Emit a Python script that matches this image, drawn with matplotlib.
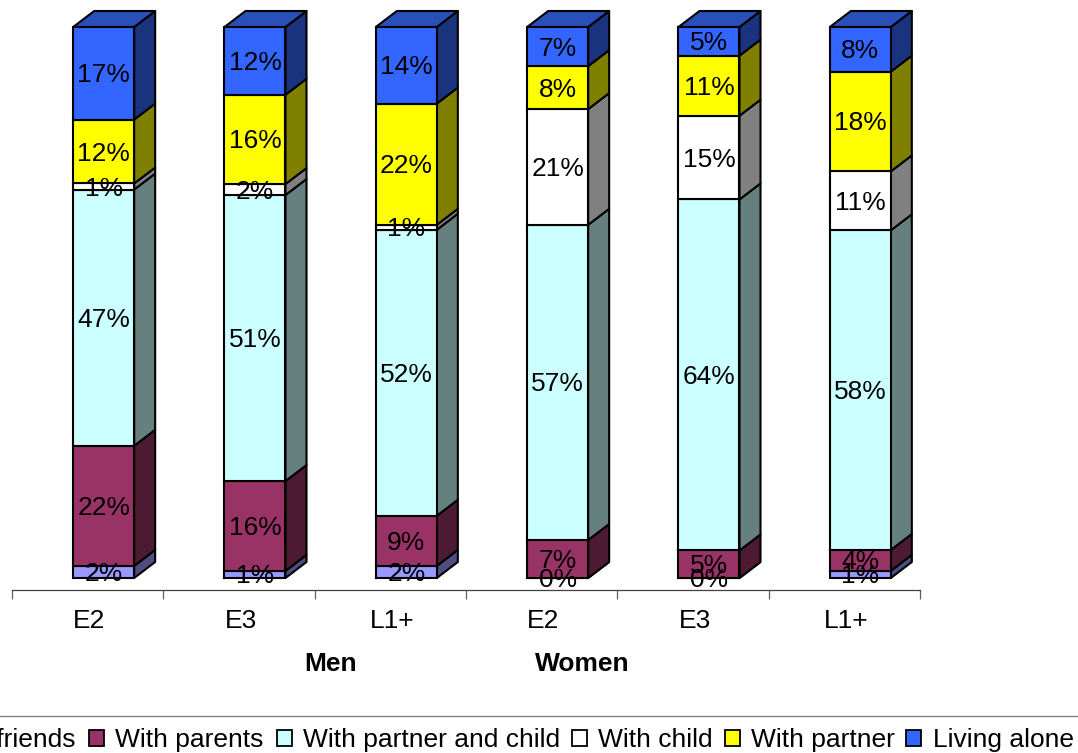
import matplotlib
matplotlib.use("Agg")
import matplotlib.pyplot as plt
from matplotlib.patches import Polygon, Rectangle
from matplotlib.lines import Line2D
from matplotlib.transforms import ScaledTranslation

plt.rcParams['font.family'] = ['Liberation Sans', 'DejaVu Sans']

# ---- data ----
levels = ["E2", "E3", "L1+", "E2", "E3", "L1+"]
groups = ["Men", "Women"]
series_names = ["With friends", "With parents", "With partner and child",
                "With child", "With partner", "Living alone"]
with_friends = [2.2, 1.3, 2.2, 0.0, 0.0, 1.3]
with_parents = [21.8, 16.3, 9.1, 6.9, 5.0, 3.8]
with_partner_child = [46.5, 51.9, 51.9, 57.2, 63.7, 58.0]
with_child = [1.1, 2.0, 0.9, 21.0, 15.2, 10.7]
with_partner = [11.6, 16.2, 22.0, 7.8, 10.9, 18.1]
living_alone = [16.8, 12.3, 13.9, 7.1, 5.2, 8.1]
lab_friends = [2, 1, 2, 0, 0, 1]
lab_parents = [22, 16, 9, 7, 5, 4]
lab_partner_child = [47, 51, 52, 57, 64, 58]
lab_child = [1, 2, 1, 21, 15, 11]
lab_partner = [12, 16, 22, 8, 11, 18]
lab_alone = [17, 12, 14, 7, 5, 8]

values = [with_friends, with_parents, with_partner_child, with_child, with_partner, living_alone]
labels = [lab_friends, lab_parents, lab_partner_child, lab_child, lab_partner, lab_alone]
front = ["#9999FF", "#993366", "#CCFFFF", "#FFFFFF", "#FFFF00", "#3366FF"]
side = ["#4D4D80", "#4D1A33", "#668080", "#808080", "#808000", "#1A337F"]
top_color = "#2850B8"

W, H = 1078, 753
fig = plt.figure(figsize=(W / 100, H / 100), dpi=100)
FS = 19

# axes: x 12..920 px, y 590..27 px
ax = fig.add_axes([12 / W, 1 - 590 / H, (920 - 12) / W, (590 - 27) / H])
px_x = (920 - 12) / 6
px_y = (578 - 27) / 100
ax.set_xlim(-0.5, 5.5)
ax.set_ylim(-12 / px_y, 100)
ax.patch.set_alpha(0)

shift = 16 / px_x
bw = 61 / px_x
dx = 21 / px_x
dy = 16 / px_y
lw = 1.5
text_drop = 2.0 / px_y

for i in range(len(levels)):
    c = i + shift
    base = 0.0
    for s, vals in enumerate(values):
        v = vals[i]
        t = base + v
        r = c + bw / 2
        ax.add_patch(Polygon([(r, base), (r + dx, base + dy), (r + dx, t + dy), (r, t)],
                             closed=True, facecolor=side[s], edgecolor="black",
                             linewidth=lw, clip_on=False, joinstyle="round", zorder=2))
        ax.bar(c, v, width=bw, bottom=base, color=front[s], edgecolor="black",
               linewidth=lw, clip_on=False, zorder=3)
        base = t
    l, r = c - bw / 2, c + bw / 2
    ax.add_patch(Polygon([(l, base), (l + dx, base + dy), (r + dx, base + dy), (r, base)],
                         closed=True, facecolor=top_color, edgecolor="black",
                         linewidth=lw, clip_on=False, joinstyle="round", zorder=2))
    base = 0.0
    for s, vals in enumerate(values):
        ax.text(c, base + vals[i] / 2 - text_drop, f"{labels[s][i]}%",
                ha="center", va="center", fontsize=FS, color="black",
                clip_on=False, zorder=5)
        base += vals[i]

for sp in ("top", "left", "right"):
    ax.spines[sp].set_visible(False)
ax.spines["bottom"].set_color("#404040")
ax.spines["bottom"].set_linewidth(0.9)
ax.set_yticks([])
ax.set_xticks([k - 0.5 for k in range(7)])
ax.set_xticklabels([])
ax.tick_params(axis="x", which="major", length=6.5, width=0.9, color="#606060", direction="out")
ax.set_xticks(range(6), minor=True)
ax.set_xticklabels(levels, minor=True, fontsize=FS)
ax.tick_params(axis="x", which="minor", length=0, pad=13.5)
offset = ScaledTranslation(1.7 / 100, 0, fig.dpi_scale_trans)
for lab in ax.get_xticklabels(minor=True):
    lab.set_transform(lab.get_transform() + offset)

# group captions
fig.text(331 / W, 1 - 664 / H, groups[0], fontsize=FS, fontweight="bold", ha="center", va="center")
fig.text(582 / W, 1 - 664 / H, groups[1], fontsize=FS, fontweight="bold", ha="center", va="center")

# legend (box runs off the left edge of the picture)
fig.add_artist(Line2D([0, 1], [1 - 716 / H] * 2, color="#808080", lw=1.0))
swatch_x = [-93, 89, 277, 572, 725, 906]
text_x = [-64, 115, 303, 598, 751, 933]
for name, col, sx, tx in zip(series_names, front, swatch_x, text_x):
    fig.add_artist(Rectangle((sx / W, 1 - 746 / H), 15 / W, 16 / H, transform=fig.transFigure,
                             facecolor=col, edgecolor="black", linewidth=1.3))
    fig.text(tx / W, 1 - 740 / H, name, fontsize=FS, ha="left", va="center", clip_on=False)

fig.savefig("out.png", dpi=100)
